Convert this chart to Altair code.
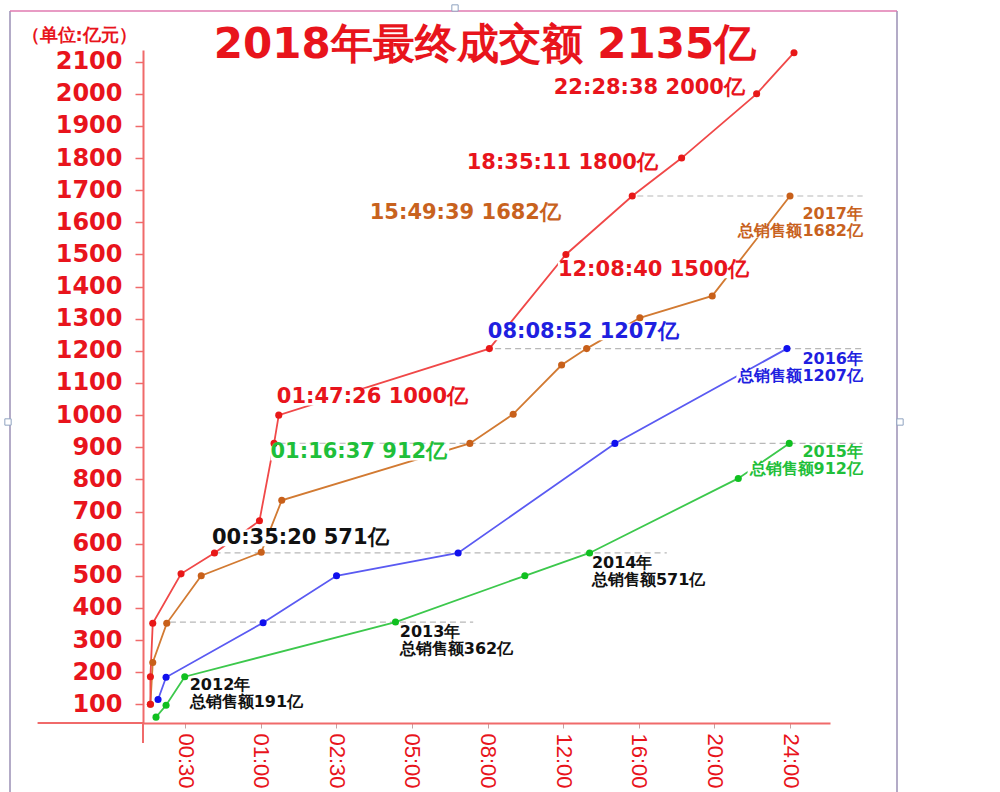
import json
import altair as alt
import pandas as pd

# ---------------- data ----------------
x_labels = ["00:30", "01:00", "02:30", "05:00", "08:00", "12:00", "16:00", "20:00", "24:00"]
x_tick_pos = [1, 2, 3, 4, 5, 6, 7, 8, 9]
y_ticks = [100, 200, 300, 400, 500, 600, 700, 800, 900, 1000, 1100,
           1200, 1300, 1400, 1500, 1600, 1700, 1800, 1900, 2000, 2100]

# 2018 (red)
red_x = [0.542, 0.542, 0.573, 0.947, 1.389, 1.984, 2.177, 2.239, 5.024, 6.036, 6.913, 7.566, 8.558, 9.052]
red_y = [100, 186, 352, 506, 571, 671, 912, 1000, 1207, 1500, 1682, 1800, 2000, 2128]
# 2017 (orange)
orange_x = [0.542, 0.573, 0.758, 1.214, 2.008, 2.279, 4.766, 5.339, 5.979, 6.310, 7.014, 7.971, 8.999]
orange_y = [100, 230, 352, 500, 573, 735, 912, 1003, 1156, 1207, 1303, 1371, 1682]
# 2016 (blue)
blue_x = [0.643, 0.749, 2.032, 3.003, 4.611, 6.684, 8.959]
blue_y = [115, 184, 354, 500, 571, 912, 1207]
# 2015 (green)
green_x = [0.616, 0.749, 0.996, 3.783, 5.493, 6.349, 8.315, 8.989]
green_y = [60, 97, 186, 356, 500, 571, 803, 912]

# dashed reference levels
ref_y = [356, 571, 912, 1207, 1682]
ref_x1 = [0.80, 1.39, 2.25, 5.10, 6.98]
ref_x2 = [4.81, 7.37, 9.96, 9.96, 9.96]

# annotations (y = first line)
ann_text = [
    "22:28:38 2000亿", "18:35:11 1800亿", "15:49:39  1682亿", "12:08:40 1500亿",
    "08:08:52 1207亿", "01:47:26 1000亿", "01:16:37 912亿", "00:35:20 571亿",
    "2012年\n总销售额191亿", "2013年\n总销售额362亿", "2014年\n总销售额571亿",
    "2015年\n总销售额912亿", "2016年\n总销售额1207亿", "2017年\n总销售额1682亿",
]
ann_x = [8.404, 7.253, 5.971, 5.930, 5.004, 2.214, 2.130, 1.356, 1.062, 3.840, 6.380, 9.964, 9.964, 9.964]
ann_y = [2018, 1785, 1629, 1452, 1259, 1056, 885, 618, 159, 324, 539, 884, 1174, 1625]
ann_color = ["#e8141c", "#e8141c", "#c8621e", "#e8141c", "#1f1fe0", "#e8141c", "#1fbf3a", "#111111",
             "#111111", "#111111", "#111111", "#1fbf3a", "#1f1fe0", "#c8621e"]
ann_align = ["right", "right", "right", "left", "left", "left", "left", "left",
             "left", "left", "left", "right", "right", "right"]
ann_kind = ["time"] * 8 + ["year"] * 6

title_text = "2018年最终成交额 2135亿"
unit_text = "（单位:亿元）"

# ---------------- styling ----------------
RED = "#e8141c"
AXIS_RED = "#f06a6a"
X_MIN, X_MAX = 0.444, 9.528
Y_MIN, Y_MAX = 41.8, 2136.4
W, H = 687, 673
PX_X = W / (X_MAX - X_MIN)
PX_Y = H / (Y_MAX - Y_MIN)
KIND_STYLE = {"time": (21, 23), "year": (16, 17)}  # font size, line height

label_expr = json.dumps([""] + x_labels) + "[datum.value]"

x_scale = alt.Scale(domain=[X_MIN, X_MAX], nice=False, zero=False)
y_scale = alt.Scale(domain=[Y_MIN, Y_MAX], nice=False, zero=False)

x_axis = alt.Axis(values=x_tick_pos, labelExpr=label_expr, labelAngle=90, labelAlign="left",
                  labelBaseline="middle", labelFont="Liberation Sans", labelFontSize=22,
                  labelColor=RED, labelPadding=5, labelOverlap=False, labelFlush=False,
                  tickColor="#c8a0a0", tickSize=5, tickWidth=1, domainColor=AXIS_RED,
                  domainWidth=2, grid=False, title=None)
y_axis = alt.Axis(values=y_ticks, format="d", labelFont="DejaVu Sans", labelFontSize=24,
                  labelFontWeight="bold", labelColor=RED, labelPadding=13, tickColor=AXIS_RED,
                  tickSize=8, tickWidth=1.5, domainColor=AXIS_RED, domainWidth=2, grid=False,
                  title=unit_text, titleAngle=0, titleAlign="left", titleBaseline="middle",
                  titleX=-122, titleY=-15, titleFont="DejaVu Sans", titleFontSize=18,
                  titleFontWeight="bold", titleColor=RED)

X = alt.X("x:Q", scale=x_scale, axis=x_axis)
Y = alt.Y("y:Q", scale=y_scale, axis=y_axis)


def text_width(s, size):
    w = 0.0
    for ch in s:
        if ch.isdigit():
            w += 0.696
        elif ch == ":":
            w += 0.40
        elif ch == " ":
            w += 0.348
        elif ord(ch) > 0x2E80:
            w += 1.0
        else:
            w += 0.6
    return w * size


one = pd.DataFrame({"a": [0]})
layers = []

# picture frame (decoration of the screenshot)
frame_c = "#9a8fb5"
layers.append(alt.Chart(one).mark_rule(color=frame_c, strokeWidth=1.5).encode(
    x=alt.value(-133), y=alt.value(-39), y2=alt.value(742)))
layers.append(alt.Chart(one).mark_rule(color=frame_c, strokeWidth=1.5).encode(
    x=alt.value(754), y=alt.value(-39), y2=alt.value(742)))
layers.append(alt.Chart(one).mark_rule(color="#e07ab0", strokeWidth=1.5).encode(
    x=alt.value(-133), x2=alt.value(754), y=alt.value(-39)))
handles = pd.DataFrame({"hx": [312, -135, 757], "hy": [-42, 372, 372]})
layers.append(alt.Chart(handles).mark_square(size=40, fill="white", stroke="#8fa3c0", strokeWidth=1,
                                             opacity=1).encode(
    x=alt.X("hx:Q", scale=None), y=alt.Y("hy:Q", scale=None)))

# axis extensions (x-axis continues left, y-axis continues below)
ext = pd.DataFrame({"x": [-0.95, X_MIN], "x2": [X_MIN, X_MIN], "y": [Y_MIN, -20.4], "y2": [Y_MIN, Y_MIN]})
layers.append(alt.Chart(ext).mark_rule(color=AXIS_RED, strokeWidth=2).encode(
    x=X, x2="x2:Q", y=Y, y2="y2:Q"))

# dashed reference lines
refs = pd.DataFrame({"x": ref_x1, "x2": ref_x2, "y": ref_y})
layers.append(alt.Chart(refs).mark_rule(color="#b8b8b8", strokeWidth=1.2, strokeDash=[6, 4]).encode(
    x=X, x2="x2:Q", y=Y))

# white backgrounds behind every annotation line (drawn before series' points on top? no: lines first)
bg_rows = []
for t, ax, ay, al, k in zip(ann_text, ann_x, ann_y, ann_align, ann_kind):
    size, lh = KIND_STYLE[k]
    for i, line in enumerate(t.split("\n")):
        w = text_width(line, size) + 2
        h = size * 0.8
        cy = ay - i * lh / PX_Y
        if al == "left":
            x1, x2 = ax, ax + w / PX_X
        else:
            x1, x2 = ax - w / PX_X, ax
        bg_rows.append({"x": x1, "x2": x2, "y": cy - h / 2 / PX_Y, "y2": cy + h / 2 / PX_Y})
bg = pd.DataFrame(bg_rows)

# series lines, then label backgrounds, then points
series = [
    (green_x, green_y, "#3cc84c", "#10c020"),
    (blue_x, blue_y, "#5a5af2", "#1010ee"),
    (orange_x, orange_y, "#d27a32", "#c8601a"),
    (red_x, red_y, "#f04848", "#e81818"),
]
point_layers = []
for xs, ys, lc, pc in series:
    df = pd.DataFrame({"x": xs, "y": ys, "o": list(range(len(xs)))})
    base = alt.Chart(df).encode(x=X, y=Y, order="o:Q")
    layers.append(base.mark_line(color=lc, strokeWidth=1.8))
    point_layers.append(base.mark_point(filled=True, size=50, color=pc, opacity=1))

layers.append(alt.Chart(bg).mark_rect(color="white", opacity=1).encode(
    x=X, x2="x2:Q", y=Y, y2="y2:Q"))
layers.extend(point_layers)

# annotation texts
ann = pd.DataFrame({"x": ann_x, "y": ann_y, "t": ann_text, "c": ann_color,
                    "al": ann_align, "k": ann_kind})
for kind in ["time", "year"]:
    size, lh = KIND_STYLE[kind]
    for al in ["left", "right"]:
        sub = ann[(ann.k == kind) & (ann.al == al)]
        if sub.empty:
            continue
        layers.append(alt.Chart(sub).mark_text(
            font="DejaVu Sans", fontWeight="bold", fontSize=size, align=al,
            baseline="middle", lineBreak="\n", lineHeight=lh
        ).encode(x=X, y=Y, text="t:N", color=alt.Color("c:N", scale=None)))

# main title
layers.append(alt.Chart(pd.DataFrame({"t": [title_text]})).mark_text(
    font="DejaVu Sans", fontWeight="bold", fontSize=42, color=RED, align="center", baseline="middle"
).encode(x=alt.value(342), y=alt.value(-5), text="t:N"))

chart = alt.layer(*layers).properties(
    width=W, height=H,
    padding={"left": 143, "top": 50, "right": 170, "bottom": 69},
    autosize=alt.AutoSizeParams(type="none"),
    background="white",
).configure_view(stroke=None)

chart.save("out.html", embed_options={"renderer": "svg", "actions": False})
